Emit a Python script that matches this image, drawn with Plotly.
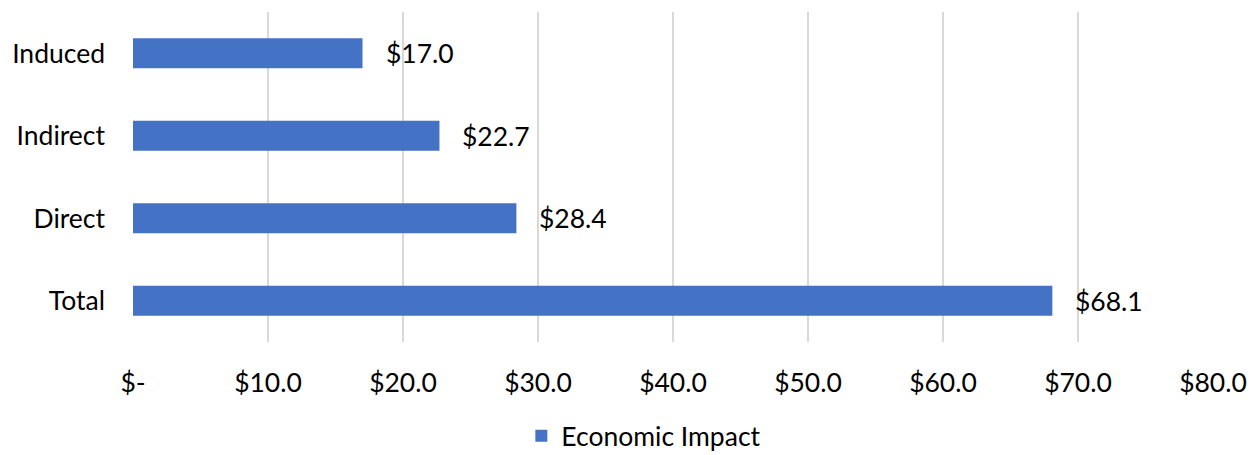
import plotly.graph_objects as go

categories = ["Total", "Direct", "Indirect", "Induced"]
values = [68.1, 28.4, 22.7, 17.0]
tick_vals = [0, 10, 20, 30, 40, 50, 60, 70, 80]
tick_text = ["$-", "$10.0", "$20.0", "$30.0", "$40.0", "$50.0", "$60.0", "$70.0", "$80.0"]
series_name = "Economic Impact"

FONT = "Lato"
FS = 26.5
BLUE = "#4472C4"

fig = go.Figure()
fig.add_trace(go.Bar(
    y=categories, x=values, orientation="h", name=series_name,
    marker=dict(color=BLUE, line=dict(width=0)),
    showlegend=True,
))

for c, v in zip(categories, values):
    fig.add_annotation(x=v, y=c, text=f"${v:.1f}", showarrow=False,
                       xanchor="left", yanchor="middle", xshift=21,
                       font=dict(family=FONT, size=FS, color="#000000"))

# page body has an 8px default margin, compensate in figure size/margins
fig.update_layout(
    width=1249, height=447,
    margin=dict(l=125, r=44, t=4, b=113, autoexpand=False),
    paper_bgcolor="white", plot_bgcolor="white",
    bargap=0.636,
    font=dict(family=FONT, size=FS, color="#000000"),
    showlegend=True,
    legend=dict(orientation="h", x=0.473, xanchor="center", y=-0.285, yanchor="middle",
                font=dict(family=FONT, size=FS, color="#000000"), itemwidth=30,
                tracegroupgap=0),
    xaxis=dict(range=[0, 80], tickvals=tick_vals, ticktext=tick_text,
               showgrid=True, gridcolor="#D9D9D9", gridwidth=1.5,
               zeroline=False, showline=False, ticks="", ticklabelstandoff=22,
               automargin=False, fixedrange=True),
    yaxis=dict(showgrid=False, zeroline=False, showline=False, ticks="",
               ticklabelstandoff=27, automargin=False,
               categoryorder="array", categoryarray=categories),
)

fig.write_html("out.html")
